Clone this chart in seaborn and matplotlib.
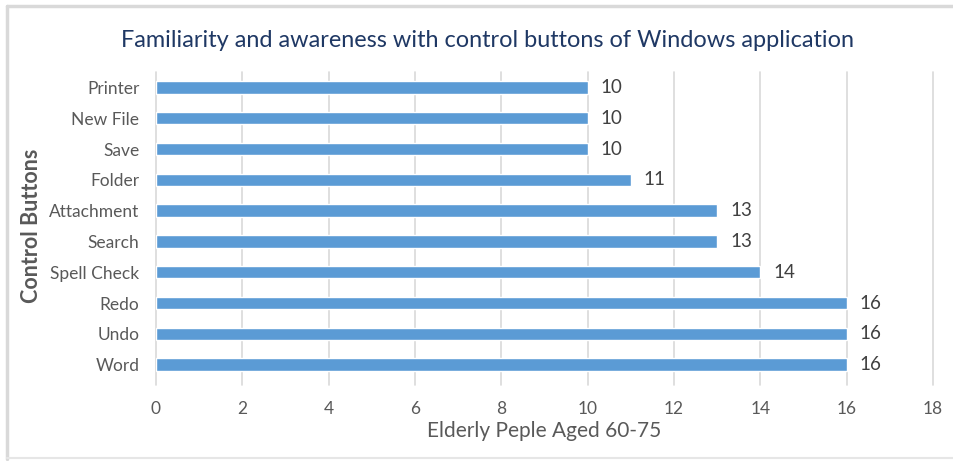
import matplotlib
matplotlib.use("Agg")
import matplotlib.pyplot as plt
import seaborn as sns
import pandas as pd
from matplotlib.lines import Line2D

buttons = ["Printer", "New File", "Save", "Folder", "Attachment",
           "Search", "Spell Check", "Redo", "Undo", "Word"]
counts = [10, 10, 10, 11, 13, 13, 14, 16, 16, 16]
x_ticks = [0, 2, 4, 6, 8, 10, 12, 14, 16, 18]

df = pd.DataFrame({"button": buttons, "count": counts})

sns.set_theme(style="white")
plt.rcParams["font.family"] = ["Lato", "DejaVu Sans"]

fig = plt.figure(figsize=(9.54, 4.61), dpi=100)
ax = fig.add_axes([0.1635, 0.1757, 0.8145, 0.6681])

sns.barplot(data=df, y="button", x="count", order=buttons, color="#5B9BD5",
            saturation=1, width=0.4, ax=ax, orient="h")

ax.set_xlim(0, 18)
ax.set_xticks(x_ticks)
ax.set_xticklabels([str(t) for t in x_ticks])
# light vertical gridlines spanning slightly below the bars
for t in x_ticks:
    ax.plot([t, t], [-0.5, 9.65], color="#D9D9D9", linewidth=1.2,
            zorder=0, clip_on=False)
ax.set_ylim(9.5, -0.5)
for s in ax.spines.values():
    s.set_visible(False)
ax.tick_params(axis="both", length=0, labelsize=12.5, labelcolor="#595959")
ax.tick_params(axis="x", pad=15)
ax.tick_params(axis="y", pad=12)

for i, v in enumerate(counts):
    ax.text(v + 0.3, i, str(v), va="center", ha="left",
            fontsize=13.5, color="#404040")

ax.set_xlabel("Elderly Peple Aged 60-75", fontsize=15, color="#595959", labelpad=3)
ax.set_ylabel("Control Buttons", fontsize=15.5, color="#595959",
              fontweight="bold", labelpad=5)

fig.text(0.511, 0.913, "Familiarity and awareness with control buttons of Windows application",
         ha="center", va="center", fontsize=16.9, color="#1F3864")

# outer frame: left and top edges, faint bottom edge
frame_kw = dict(color="#D9D9D9", linewidth=2.5, transform=fig.transFigure)
fig.add_artist(Line2D([0.007, 0.007], [0.004, 0.987], **frame_kw))
fig.add_artist(Line2D([0.007, 1.0], [0.987, 0.987], **frame_kw))
fig.add_artist(Line2D([0.007, 1.0], [0.006, 0.006], color="#E6E6E6", linewidth=1.5,
                      transform=fig.transFigure))

fig.savefig("out.png", dpi=100)
